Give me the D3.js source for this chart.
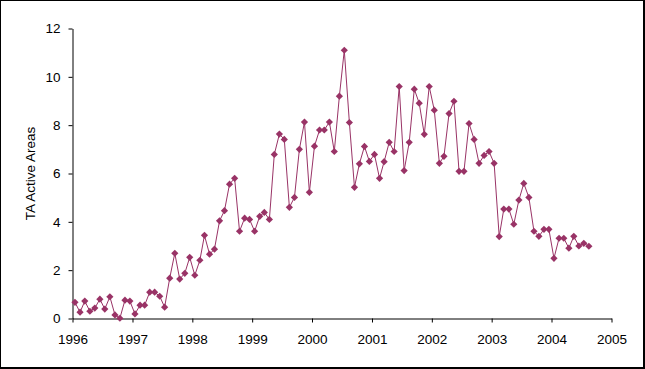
<!DOCTYPE html>
<html>
<head>
<meta charset="utf-8">
<script src="https://cdn.jsdelivr.net/npm/d3@7"></script>
<style>
  body { margin: 0; background: #fff; }
  svg { display: block; font-family: Arial, "Liberation Sans", sans-serif; }
</style>
</head>
<body>
<svg id="chart" width="645" height="369"></svg>
<script>
// monthly series, Jan 1996 .. Aug 2004
var startMonth = new Date(1996, 0, 1);
var activeAreas = [
  0.67, 0.26, 0.72, 0.30, 0.43, 0.80, 0.39, 0.90, 0.15, 0.01, 0.76, 0.72,
  0.19, 0.55, 0.55, 1.09, 1.09, 0.92, 0.47, 1.67, 2.70, 1.63, 1.87, 2.53,
  1.79, 2.41, 3.44, 2.66, 2.87, 4.04, 4.46, 5.56, 5.80, 3.61, 4.15, 4.10,
  3.61, 4.23, 4.39, 4.10, 6.79, 7.63, 7.41, 4.60, 5.01, 7.00, 8.13, 5.22,
  7.13, 7.80, 7.80, 8.13, 6.91, 9.20, 11.10, 8.11, 5.43, 6.40, 7.12, 6.50,
  6.79, 5.80, 6.49, 7.29, 6.91, 9.60, 6.12, 7.29, 9.49, 8.91, 7.62, 9.60,
  8.62, 6.42, 6.71, 8.48, 8.99, 6.09, 6.09, 8.07, 7.41, 6.42, 6.75, 6.91,
  6.42, 3.39, 4.53, 4.53, 3.90, 4.90, 5.59, 5.01, 3.61, 3.40, 3.69, 3.69,
  2.49, 3.32, 3.32, 2.91, 3.40, 3.00, 3.11, 2.99
];
var yearTicks = [1996, 1997, 1998, 1999, 2000, 2001, 2002, 2003, 2004, 2005];
var yTicks = [0, 2, 4, 6, 8, 10, 12];
var yTitle = "TA Active Areas";

var data = activeAreas.map(function (v, i) {
  var m = d3.timeMonth.offset(startMonth, i);
  return { date: new Date(m.getFullYear(), m.getMonth(), 16), value: v };
});

var svg = d3.select("#chart");

// frame
svg.append("rect").attr("x", 0).attr("y", 0).attr("width", 645).attr("height", 369).attr("fill", "#000");
svg.append("rect").attr("x", 1).attr("y", 1).attr("width", 642).attr("height", 366).attr("fill", "#fff");

var x = d3.scaleTime()
    .domain([new Date(yearTicks[0], 0, 1), new Date(yearTicks[yearTicks.length - 1], 0, 1)])
    .range([72.5, 611.5]);

var y = d3.scaleLinear()
    .domain([0, 12])
    .range([318.5, 28.5]);

var xAxis = d3.axisBottom(x)
    .tickValues(yearTicks.map(function (yr) { return new Date(yr, 0, 1); }))
    .tickFormat(d3.timeFormat("%Y"))
    .tickSizeInner(4)
    .tickSizeOuter(0)
    .tickPadding(12);

var yAxis = d3.axisLeft(y)
    .tickValues(yTicks)
    .tickSizeInner(4)
    .tickSizeOuter(0)
    .tickPadding(8);

var gx = svg.append("g")
    .attr("transform", "translate(0,318.5)")
    .call(xAxis);
var gy = svg.append("g")
    .attr("transform", "translate(72.5,0)")
    .call(yAxis);

[gx, gy].forEach(function (g) {
  g.select(".domain").attr("stroke", "#000");
  g.selectAll(".tick line").attr("stroke", "#000");
  g.selectAll(".tick text")
      .attr("fill", "#000")
      .style("font-size", "13.5px")
      .style("font-family", "Arial, 'Liberation Sans', sans-serif");
});

// y axis title
svg.append("text")
    .attr("text-anchor", "middle")
    .attr("transform", "translate(35," + ((y(0) + y(12)) / 2) + ")rotate(-90)")
    .attr("fill", "#000")
    .style("font-size", "13.5px")
    .text(yTitle);

// line
var line = d3.line()
    .x(function (d) { return x(d.date); })
    .y(function (d) { return y(d.value); });

svg.append("path")
    .datum(data)
    .attr("fill", "none")
    .attr("stroke", "#993366")
    .attr("stroke-width", 1)
    .attr("d", line);

// diamond markers
svg.selectAll(".marker")
    .data(data)
    .enter().append("path")
    .attr("class", "marker")
    .attr("d", "M0,-3.6L3.6,0L0,3.6L-3.6,0Z")
    .attr("transform", function (d) {
      return "translate(" + x(d.date) + "," + y(d.value) + ")";
    })
    .attr("fill", "#993366");
</script>
</body>
</html>
